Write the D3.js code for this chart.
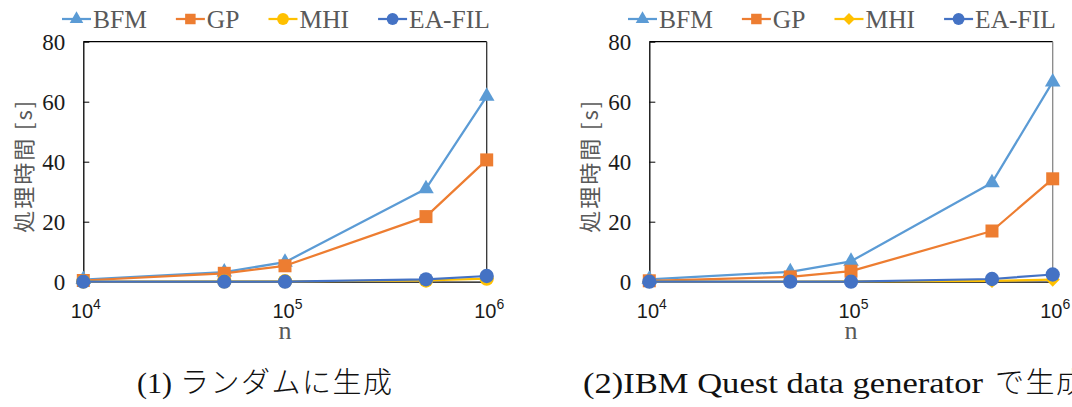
<!DOCTYPE html>
<html>
<head>
<meta charset="utf-8">
<script src="https://cdn.jsdelivr.net/npm/d3@7"></script>
<style>
  html, body { margin: 0; padding: 0; background: #fff; }
  svg { display: block; }
</style>
</head>
<body>
<svg id="chart" width="1072" height="407"></svg>
<script>
// ---------- data ----------
const nValues = [1e4, 5e4, 1e5, 5e5, 1e6];
const seriesNames = ["BFM", "GP", "MHI", "EA-FIL"];
const seriesColors = ["#5B9BD5", "#ED7D31", "#FFC000", "#4472C4"];

// (1) random generation
const bfm1   = [0.7, 3.2, 6.5, 31.0, 61.8];
const gp1    = [0.4, 2.8, 5.3, 21.7, 40.6];
const mhi1   = [0.05, 0.1, 0.15, 0.4, 1.0];
const eafil1 = [0.0, 0.0, 0.0, 0.8, 1.9];

// (2) IBM Quest data generator
const bfm2   = [0.8, 3.3, 6.8, 33.0, 66.6];
const gp2    = [0.3, 1.6, 3.5, 16.9, 34.3];
const mhi2   = [0.05, 0.05, 0.1, 0.25, 0.7];
const eafil2 = [0.0, 0.0, 0.0, 0.9, 2.4];

const yTicks = [0, 20, 40, 60, 80];
const xTicks = [1e4, 1e5, 1e6];
const xTickExp = ["4", "5", "6"];
const yTitle = "処理時間 [s]";
const xTitle = "n";
const caption1Latin = "(1)";
const caption1Jp = " ランダムに生成";
const caption2Latin = "(2)IBM Quest data generator";
const caption2Jp = "で生成";

// ---------- drawing ----------
const svg = d3.select("#chart");
const W = 403.4, H = 240;
const x = d3.scaleLog().domain([1e4, 1e6]).range([0, W]);
const y = d3.scaleLinear().domain([0, 80]).range([H, 0]);

const serif = "'Liberation Serif', 'Times New Roman', serif";
const sans = "'Liberation Sans', Arial, sans-serif";
const cjk = "'Noto Sans CJK JP', 'Noto Sans', sans-serif";

function markerPath(kind) {
  if (kind === "triangle") return d3.symbol(d3.symbolTriangle, 105)();
  if (kind === "square") return d3.symbol(d3.symbolSquare, 169)();
  if (kind === "circle") return d3.symbol(d3.symbolCircle, 160)();
  if (kind === "diamond") return d3.symbol(d3.symbolSquare, 100)();
  return null;
}
function legendMarkerPath(kind) {
  if (kind === "triangle") return d3.symbol(d3.symbolTriangle, 80)();
  if (kind === "square") return d3.symbol(d3.symbolSquare, 110)();
  if (kind === "circle") return d3.symbol(d3.symbolCircle, 110)();
  if (kind === "diamond") return d3.symbol(d3.symbolSquare, 70)();
  return null;
}

function drawChart(left, seriesData, markers, rightBorderColor) {
  const g = svg.append("g").attr("transform", `translate(${left},41.7)`);

  // box: top and right border
  g.append("line").attr("x1", 0).attr("x2", W).attr("y1", 0).attr("y2", 0)
    .attr("stroke", "#000").attr("stroke-width", 1.3);
  g.append("line").attr("x1", W).attr("x2", W).attr("y1", 0).attr("y2", H)
    .attr("stroke", rightBorderColor).attr("stroke-width", 1.3);

  // y axis
  const yAxis = d3.axisLeft(y).tickValues(yTicks).tickSizeInner(-6).tickSizeOuter(0).tickPadding(18);
  const ya = g.append("g").call(yAxis);
  ya.select(".domain").attr("stroke", "#000").attr("stroke-width", 1.3);
  ya.selectAll(".tick line").attr("stroke", "#000").attr("stroke-width", 1);
  ya.selectAll(".tick text").attr("font-family", serif).attr("font-size", 23)
    .attr("fill", "#1a1a1a").attr("dy", "0.35em");

  // x axis
  const xAxis = d3.axisBottom(x).tickValues(xTicks).tickSize(0).tickFormat(() => "");
  const xa = g.append("g").attr("transform", `translate(0,${H})`).call(xAxis);
  xa.select(".domain").attr("stroke", "#000").attr("stroke-width", 1.3);
  xa.selectAll(".tick text").each(function(d, i) {
    const t = d3.select(this);
    t.text(null).attr("y", 36).attr("dy", null).attr("dx", 2)
      .attr("font-family", sans).attr("fill", "#1a1a1a").attr("text-anchor", "middle");
    t.append("tspan").attr("font-size", 20).text("10");
    t.append("tspan").attr("font-size", 14).attr("dy", -9).text(xTickExp[i]);
  });

  // axis titles
  g.append("text").attr("x", W / 2).attr("y", 297)
    .attr("text-anchor", "middle").attr("font-family", serif).attr("font-size", 26)
    .attr("fill", "#595959").text(xTitle);
  g.append("text").attr("transform", `translate(-61.3,124.1) rotate(-90)`)
    .attr("text-anchor", "middle").attr("dominant-baseline", "central")
    .attr("font-family", cjk).attr("font-size", 22).attr("letter-spacing", 2)
    .attr("fill", "#595959").text(yTitle);

  // series
  const line = d3.line().x((d, i) => x(nValues[i])).y(d => y(d));
  seriesData.forEach((vals, k) => {
    const sg = g.append("g");
    sg.append("path").datum(vals).attr("d", line)
      .attr("fill", "none").attr("stroke", seriesColors[k]).attr("stroke-width", 2.25)
      .attr("stroke-linejoin", "round");
    sg.selectAll("path.m").data(vals).join("path").attr("class", "m")
      .attr("d", markerPath(markers[k]))
      .attr("transform", (d, i) => `translate(${x(nValues[i])},${y(d)})` + (markers[k] === "diamond" ? " rotate(45)" : ""))
      .attr("fill", seriesColors[k]);
  });

  // legend
  const lg = svg.append("g").attr("transform", `translate(${left},0)`);
  let cx = -21.3;
  seriesNames.forEach((name, k) => {
    const it = lg.append("g");
    it.append("line").attr("x1", cx).attr("x2", cx + 29).attr("y1", 19).attr("y2", 19)
      .attr("stroke", seriesColors[k]).attr("stroke-width", 2.25);
    it.append("path").attr("d", legendMarkerPath(markers[k]))
      .attr("transform", `translate(${cx + 14.5},19)` + (markers[k] === "diamond" ? " rotate(45)" : ""))
      .attr("fill", seriesColors[k]);
    const t = it.append("text").attr("x", cx + 31).attr("y", 27.5)
      .attr("font-family", serif).attr("font-size", 25.5).attr("fill", "#595959").text(name);
    cx += 31 + t.node().getComputedTextLength() + 29;
  });
}

drawChart(83.3, [bfm1, gp1, mhi1, eafil1], ["triangle", "square", "circle", "circle"], "#333");
drawChart(649.3, [bfm2, gp2, mhi2, eafil2], ["triangle", "square", "diamond", "circle"], "#888");

// captions
const c1 = svg.append("text").attr("x", 137).attr("y", 393).attr("fill", "#111");
c1.append("tspan").attr("font-family", serif).attr("font-size", 30).text(caption1Latin);
c1.append("tspan").attr("font-family", cjk).attr("font-size", 29).attr("font-weight", 300)
  .attr("letter-spacing", 1.5).text(caption1Jp);

svg.append("text").attr("x", 583).attr("y", 393).attr("fill", "#111")
  .attr("font-family", serif).attr("font-size", 30)
  .attr("textLength", 400).attr("lengthAdjust", "spacingAndGlyphs").text(caption2Latin);
svg.append("text").attr("x", 995).attr("y", 393).attr("fill", "#111")
  .attr("font-family", cjk).attr("font-size", 29).attr("font-weight", 300)
  .attr("letter-spacing", 1.5).text(caption2Jp);
</script>
</body>
</html>
